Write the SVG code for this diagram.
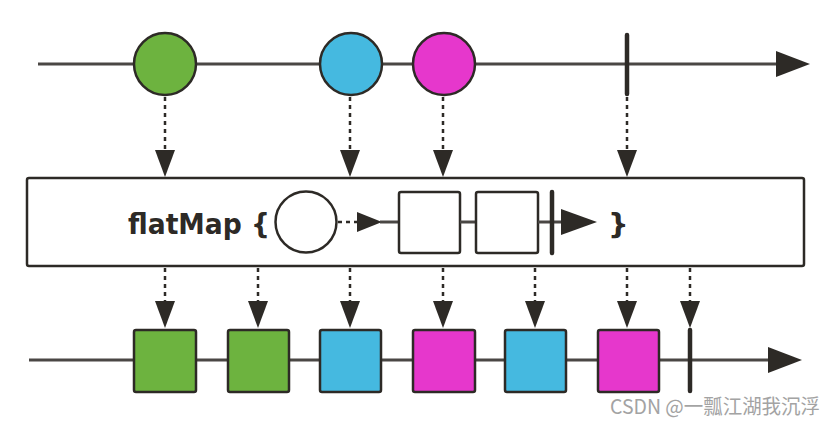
<svg xmlns="http://www.w3.org/2000/svg" width="836" height="424" viewBox="0 0 836 424">
<style>
.tl{stroke:#4a4744;stroke-width:3;fill:none}
.dash{stroke:#2d2a26;stroke-width:2.5;stroke-dasharray:4 4;fill:none}
.ah{fill:#2d2a26}
.bar{stroke:#2d2a26;stroke-width:4.5;stroke-linecap:round}
.node{stroke:#2d2a26;stroke-width:2.5}
.g{fill:#6db33f}.b{fill:#45b9e0}.m{fill:#e637cc}.w{fill:#ffffff}
.lbl{font-family:"DejaVu Sans","Liberation Sans",sans-serif;font-weight:bold;font-size:29px;fill:#2d2a26}
.wm{font-family:"Noto Sans CJK SC","Liberation Sans",sans-serif;font-size:20px;fill:#a3a3a3}
</style>
<defs>
<path id="dah" d="M-10,-27 L10,-27 L0,0 Z"/>
</defs>
<rect width="836" height="424" fill="#ffffff"/>
<g id="timelines">
<line class="tl" x1="38" y1="64" x2="778" y2="64"/>
<path class="ah" d="M776,51 L810,64 L776,77 Z"/>
<line class="tl" x1="29" y1="360" x2="770" y2="360"/>
<path class="ah" d="M768,347 L802,360 L768,373 Z"/>
</g>
<g id="connectors">
<line class="dash" x1="165" y1="97" x2="165" y2="152"/><use href="#dah" class="ah" x="165" y="177"/>
<line class="dash" x1="350" y1="97" x2="350" y2="152"/><use href="#dah" class="ah" x="350" y="177"/>
<line class="dash" x1="443" y1="97" x2="443" y2="152"/><use href="#dah" class="ah" x="443" y="177"/>
<line class="dash" x1="627" y1="97" x2="627" y2="152"/><use href="#dah" class="ah" x="627" y="177"/>
<line class="dash" x1="165" y1="268" x2="165" y2="302"/><use href="#dah" class="ah" x="165" y="328"/>
<line class="dash" x1="258" y1="268" x2="258" y2="302"/><use href="#dah" class="ah" x="258" y="328"/>
<line class="dash" x1="350" y1="268" x2="350" y2="302"/><use href="#dah" class="ah" x="350" y="328"/>
<line class="dash" x1="443" y1="268" x2="443" y2="302"/><use href="#dah" class="ah" x="443" y="328"/>
<line class="dash" x1="535" y1="268" x2="535" y2="302"/><use href="#dah" class="ah" x="535" y="328"/>
<line class="dash" x1="627" y1="268" x2="627" y2="302"/><use href="#dah" class="ah" x="627" y="328"/>
<line class="dash" x1="690" y1="268" x2="690" y2="302"/><use href="#dah" class="ah" x="690" y="328"/>
</g>
<g id="src-green"><circle class="node g" cx="165" cy="64" r="31"/></g>
<g id="src-blue"><circle class="node b" cx="351" cy="64" r="31"/></g>
<g id="src-magenta"><circle class="node m" cx="444" cy="64" r="31"/></g>
<g id="src-end"><line class="bar" x1="627" y1="35" x2="627" y2="94"/></g>
<g id="flatmap">
<rect x="27" y="178" width="777" height="88" rx="2" fill="#ffffff" stroke="#2d2a26" stroke-width="2.5"/>
<text class="lbl" x="128" y="234" textLength="142" lengthAdjust="spacingAndGlyphs">flatMap {</text>
<circle class="node w" cx="306" cy="222" r="30.5"/>
<line class="dash" x1="338" y1="222" x2="357" y2="222" stroke-dasharray="3 5"/>
<path class="ah" d="M357,212 L382,222 L357,232 Z"/>
<line class="tl" x1="380" y1="222" x2="400" y2="222"/>
<rect class="node w" x="399" y="192" width="61" height="61" rx="2"/>
<line class="tl" x1="460" y1="222" x2="476" y2="222"/>
<rect class="node w" x="476" y="192" width="62" height="61" rx="2"/>
<line class="tl" x1="538" y1="222" x2="563" y2="222"/>
<line class="bar" x1="552" y1="192" x2="552" y2="253"/>
<path class="ah" d="M561,209 L597,222 L561,235 Z"/>
<text class="lbl" x="608" y="234">}</text>
</g>
<g id="out-1"><rect class="node g" x="134" y="330" width="62" height="62" rx="2"/></g>
<g id="out-2"><rect class="node g" x="228" y="330" width="61" height="62" rx="2"/></g>
<g id="out-3"><rect class="node b" x="320" y="330" width="61" height="62" rx="2"/></g>
<g id="out-4"><rect class="node m" x="413" y="330" width="62" height="62" rx="2"/></g>
<g id="out-5"><rect class="node b" x="505" y="330" width="61" height="62" rx="2"/></g>
<g id="out-6"><rect class="node m" x="598" y="330" width="61" height="62" rx="2"/></g>
<g id="out-end"><line class="bar" x1="690" y1="330" x2="690" y2="391"/></g>
<text class="wm" x="610" y="414" textLength="210" lengthAdjust="spacingAndGlyphs">CSDN @一瓢江湖我沉浮</text>
</svg>
